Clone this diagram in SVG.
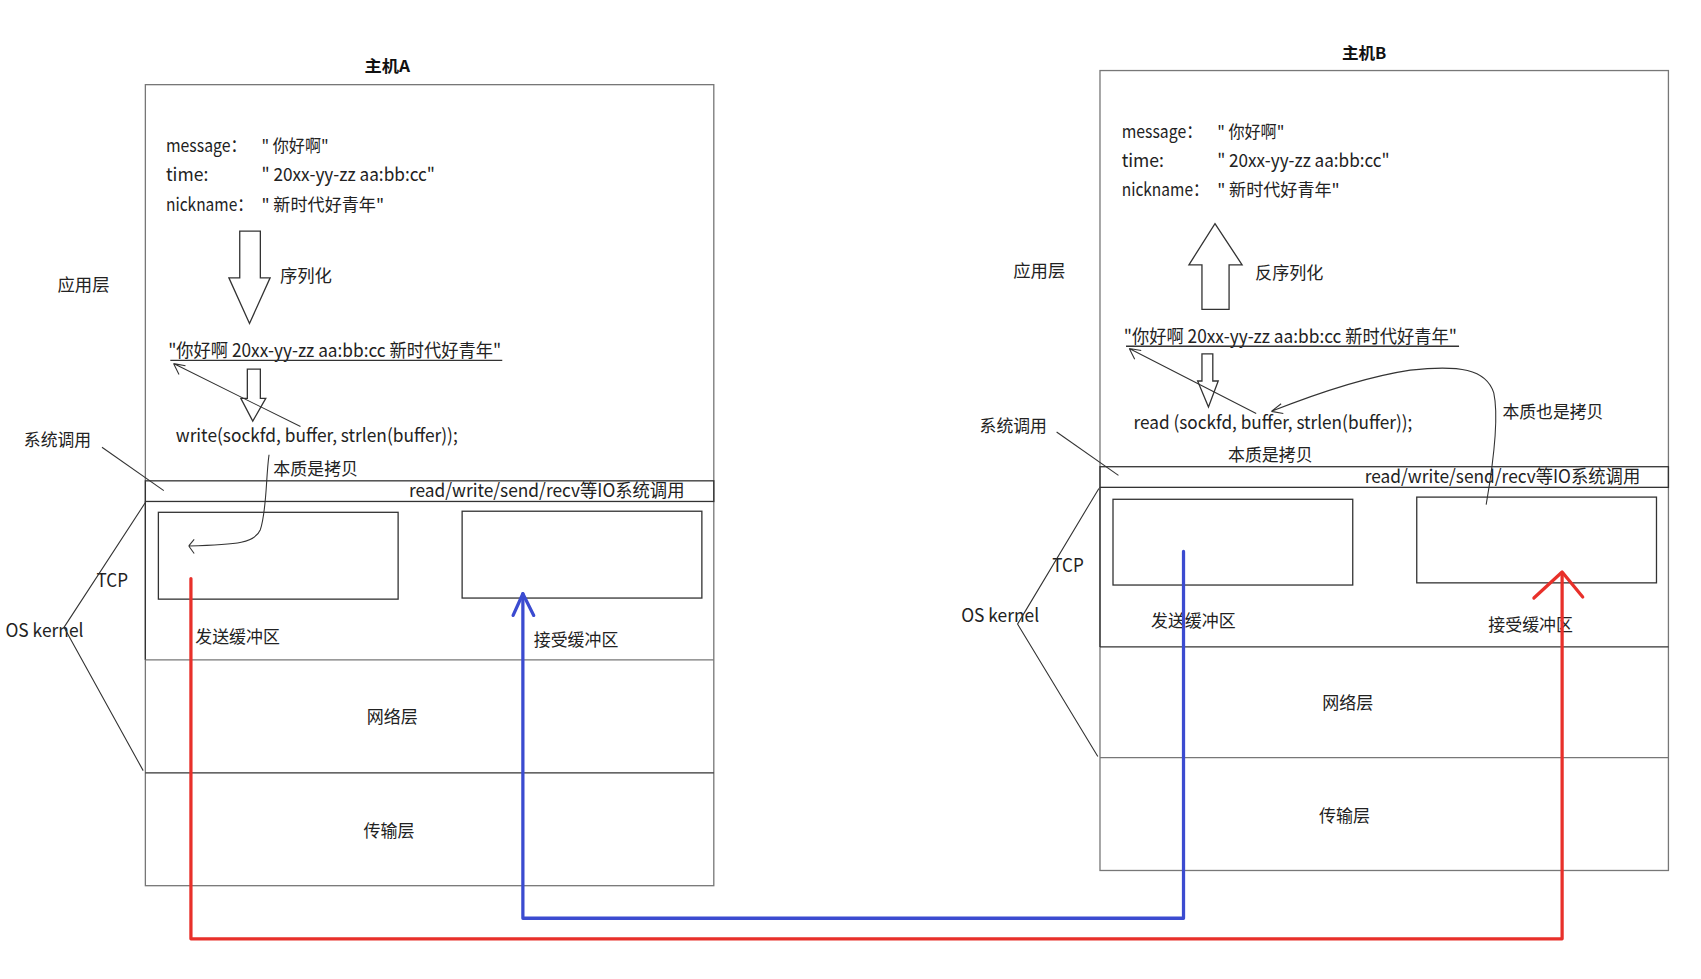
<svg xmlns="http://www.w3.org/2000/svg" width="1701" height="979" viewBox="0 0 1701 979">
<style>
.t{font-family:"Noto Sans CJK SC","Noto Sans",sans-serif;font-size:16px;fill:#222}
.l{font-size:17px}
.h{font-family:"Noto Sans CJK SC","Noto Sans",sans-serif;font-size:15px;font-weight:bold;fill:#111}
.box{fill:none;stroke:#777;stroke-width:1.2}
.dk{fill:none;stroke:#333;stroke-width:1.2}
.thin{fill:none;stroke:#333;stroke-width:1}
.hollow{fill:#fff;stroke:#333;stroke-width:1.2}
.red{fill:none;stroke:#e8302a;stroke-width:3;stroke-linejoin:round;stroke-linecap:round}
.blue{fill:none;stroke:#3b4bd0;stroke-width:3;stroke-linejoin:round;stroke-linecap:round}
</style>
<rect width="1701" height="979" fill="#fff"/>
<g transform="scale(1.0848,1.0854)">
<!-- Host A -->
<g id="hostA">
  <text class="h" x="336" y="66" textLength="42" lengthAdjust="spacingAndGlyphs">主机A</text>
  <rect class="box" x="134" y="78" width="524" height="738"/>
  <line class="dk" x1="134" y1="462" x2="134" y2="608"/>
  <line class="box" x1="134" y1="608" x2="658" y2="608"/>
  <line class="dk" x1="134" y1="712" x2="658" y2="712"/>
</g>
<g id="hostA-data">
  <text class="t l" x="153" y="140" textLength="74" lengthAdjust="spacingAndGlyphs">message：</text>
  <text class="t" x="241" y="140" textLength="62" lengthAdjust="spacingAndGlyphs">" 你好啊"</text>
  <text class="t l" x="153" y="167" textLength="39" lengthAdjust="spacingAndGlyphs">time:</text>
  <text class="t l" x="241" y="167" textLength="160" lengthAdjust="spacingAndGlyphs">" 20xx-yy-zz aa:bb:cc"</text>
  <text class="t l" x="153" y="194" textLength="80" lengthAdjust="spacingAndGlyphs">nickname：</text>
  <text class="t" x="241" y="194" textLength="113" lengthAdjust="spacingAndGlyphs">" 新时代好青年"</text>
</g>
<g id="hostA-serialize">
  <polygon class="hollow" points="221,213 240,213 240,256 249,256 230,298 211,256 221,256"/>
  <text class="t" x="258" y="260" textLength="48" lengthAdjust="spacingAndGlyphs">序列化</text>
</g>
<g id="hostA-applabel"><text class="t" x="53" y="268" textLength="48" lengthAdjust="spacingAndGlyphs">应用层</text></g>
<g id="hostA-string">
  <text class="t l" x="155" y="329" textLength="307" lengthAdjust="spacingAndGlyphs">"你好啊 20xx-yy-zz aa:bb:cc 新时代好青年"</text>
  <line class="dk" x1="157" y1="332" x2="463" y2="332"/>
</g>
<g id="hostA-small-arrow">
  <polygon class="hollow" points="228,340 240,340 240,367 245,367 233,388 222,367 228,367"/>
</g>
<g id="hostA-write"><text class="t l" x="162" y="407" textLength="260" lengthAdjust="spacingAndGlyphs">write(sockfd, buffer, strlen(buffer));</text></g>
<g id="hostA-syscall-label"><text class="t" x="22" y="411" textLength="62" lengthAdjust="spacingAndGlyphs">系统调用</text></g>
<g id="hostA-copy-label"><text class="t" x="252" y="438" textLength="78" lengthAdjust="spacingAndGlyphs">本质是拷贝</text></g>
<g id="hostA-io">
  <rect class="dk" x="134" y="443" width="524" height="19"/>
  <text class="t l" x="377" y="458" textLength="254" lengthAdjust="spacingAndGlyphs">read/write/send/recv等IO系统调用</text>
</g>
<g id="hostA-sendbuf">
  <rect class="dk" x="146" y="472" width="221" height="80"/>
  <text class="t" x="180" y="592" textLength="78" lengthAdjust="spacingAndGlyphs">发送缓冲区</text>
</g>
<g id="hostA-recvbuf">
  <rect class="dk" x="426" y="471" width="221" height="80"/>
  <text class="t" x="492" y="595" textLength="78" lengthAdjust="spacingAndGlyphs">接受缓冲区</text>
</g>
<g id="hostA-tcp"><text class="t l" x="89" y="541" textLength="29" lengthAdjust="spacingAndGlyphs">TCP</text></g>
<g id="hostA-kernel"><text class="t l" x="5" y="587" textLength="72" lengthAdjust="spacingAndGlyphs">OS kernel</text></g>
<g id="hostA-net"><text class="t" x="338" y="666" textLength="47" lengthAdjust="spacingAndGlyphs">网络层</text></g>
<g id="hostA-trans"><text class="t" x="335" y="771" textLength="47" lengthAdjust="spacingAndGlyphs">传输层</text></g>

<!-- Host B -->
<g id="hostB">
  <text class="h" x="1237" y="54" textLength="41" lengthAdjust="spacingAndGlyphs">主机B</text>
  <rect class="box" x="1014" y="65" width="524" height="737"/>
  <line class="dk" x1="1014" y1="449" x2="1014" y2="596"/>
  <line class="dk" x1="1014" y1="596" x2="1538" y2="596"/>
  <line class="box" x1="1014" y1="698" x2="1538" y2="698"/>
</g>
<g id="hostB-data">
  <text class="t l" x="1034" y="127" textLength="74" lengthAdjust="spacingAndGlyphs">message：</text>
  <text class="t" x="1122" y="127" textLength="62" lengthAdjust="spacingAndGlyphs">" 你好啊"</text>
  <text class="t l" x="1034" y="154" textLength="39" lengthAdjust="spacingAndGlyphs">time:</text>
  <text class="t l" x="1122" y="154" textLength="159" lengthAdjust="spacingAndGlyphs">" 20xx-yy-zz aa:bb:cc"</text>
  <text class="t l" x="1034" y="181" textLength="80" lengthAdjust="spacingAndGlyphs">nickname：</text>
  <text class="t" x="1122" y="181" textLength="113" lengthAdjust="spacingAndGlyphs">" 新时代好青年"</text>
</g>
<g id="hostB-deserialize">
  <polygon class="hollow" points="1120,206 1145,244 1133,244 1133,285 1108,285 1108,244 1096,244"/>
  <text class="t" x="1157" y="257" textLength="63" lengthAdjust="spacingAndGlyphs">反序列化</text>
</g>
<g id="hostB-applabel"><text class="t" x="934" y="255" textLength="48" lengthAdjust="spacingAndGlyphs">应用层</text></g>
<g id="hostB-string">
  <text class="t l" x="1036" y="316" textLength="307" lengthAdjust="spacingAndGlyphs">"你好啊 20xx-yy-zz aa:bb:cc 新时代好青年"</text>
  <line class="dk" x1="1038" y1="319" x2="1345" y2="319"/>
</g>
<g id="hostB-small-arrow">
  <polygon class="hollow" points="1108,326 1118,326 1118,351 1123,351 1114,375 1104,351 1108,351"/>
</g>
<g id="hostB-read"><text class="t l" x="1045" y="395" textLength="257" lengthAdjust="spacingAndGlyphs">read (sockfd, buffer, strlen(buffer));</text></g>
<g id="hostB-syscall-label"><text class="t" x="903" y="398" textLength="62" lengthAdjust="spacingAndGlyphs">系统调用</text></g>
<g id="hostB-copy-label"><text class="t" x="1132" y="425" textLength="78" lengthAdjust="spacingAndGlyphs">本质是拷贝</text></g>
<g id="hostB-copy2-label"><text class="t" x="1385" y="385" textLength="93" lengthAdjust="spacingAndGlyphs">本质也是拷贝</text></g>
<g id="hostB-io">
  <rect class="dk" x="1014" y="430" width="524" height="19"/>
  <text class="t l" x="1258" y="445" textLength="254" lengthAdjust="spacingAndGlyphs">read/write/send/recv等IO系统调用</text>
</g>
<g id="hostB-sendbuf">
  <rect class="dk" x="1026" y="460" width="221" height="79"/>
  <text class="t" x="1061" y="578" textLength="78" lengthAdjust="spacingAndGlyphs">发送缓冲区</text>
</g>
<g id="hostB-recvbuf">
  <rect class="dk" x="1306" y="458" width="221" height="79"/>
  <text class="t" x="1372" y="581" textLength="78" lengthAdjust="spacingAndGlyphs">接受缓冲区</text>
</g>
<g id="hostB-tcp"><text class="t l" x="970" y="527" textLength="29" lengthAdjust="spacingAndGlyphs">TCP</text></g>
<g id="hostB-kernel"><text class="t l" x="886" y="573" textLength="72" lengthAdjust="spacingAndGlyphs">OS kernel</text></g>
<g id="hostB-net"><text class="t" x="1219" y="653" textLength="47" lengthAdjust="spacingAndGlyphs">网络层</text></g>
<g id="hostB-trans"><text class="t" x="1216" y="757" textLength="47" lengthAdjust="spacingAndGlyphs">传输层</text></g>

<!-- Connectors -->
<g id="connectors">
  <!-- Host A -->
  <path class="thin" d="M277,393 L160,335 M160,335 L171,337 M160,335 L165,345"/>
  <path class="thin" d="M248,419 C245,440 246,470 240,488 C235,500 220,502 174,503 M174,503 L179,497 M174,503 L179,510"/>
  <path class="thin" d="M94,412 L151,452"/>
  <path class="thin" d="M134,463 L59,578 L132,710"/>
  <!-- Host B -->
  <path class="thin" d="M1158,381 L1041,321 M1041,321 L1052,323 M1041,321 L1046,331"/>
  <path class="thin" d="M1370,465 C1376,430 1382,385 1377,362 C1370,340 1345,336 1300,341 C1260,347 1215,362 1172,379 M1172,379 L1181,372 M1172,379 L1183,381"/>
  <path class="thin" d="M974,398 L1031,438"/>
  <path class="thin" d="M1013,450 L938,575 L1012,697"/>
  <!-- Red: A send buffer to B recv buffer -->
  <path class="red" d="M176,533 V865 H1440 V528"/>
  <path class="red" d="M1414,551 L1440,527 L1459,550"/>
  <!-- Blue: B send buffer to A recv buffer -->
  <path class="blue" d="M1091,508 V846 H482 V547"/>
  <path class="blue" d="M473,567 L482,547 L492,567"/>
</g>
</g>
</svg>
